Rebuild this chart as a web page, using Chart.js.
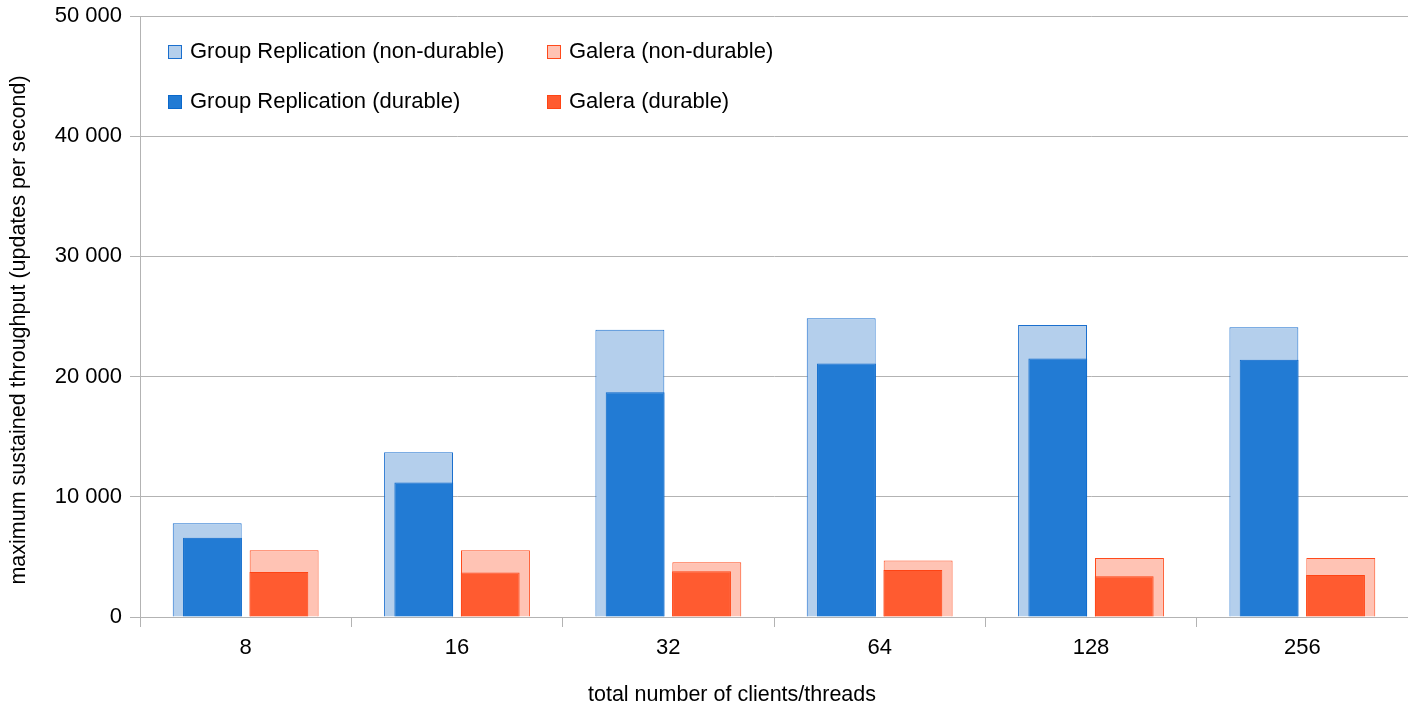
<!DOCTYPE html>
<html>
<head>
<meta charset="utf-8">
<script src="https://cdn.jsdelivr.net/npm/chart.js@4/dist/chart.umd.min.js"></script>
<style>
  html, body { margin: 0; padding: 0; background: #fff; }
  #wrap { position: relative; width: 1408px; height: 705px; }
  #legend { position: absolute; left: 168px; top: 38px; font-family: "Liberation Sans", Arial, sans-serif; font-size: 22px; color: #000; }
  .item { position: absolute; white-space: nowrap; line-height: 26px; }
  .box { display: inline-block; width: 14px; height: 14px; margin-right: 8px; vertical-align: -1px; box-sizing: border-box; border: 1px solid; }
</style>
</head>
<body>
<div id="wrap">
  <canvas id="chart" width="1408" height="705"></canvas>
  <div id="legend"></div>
</div>
<script>
const categories = ['8', '16', '32', '64', '128', '256'];
const grNonDurable = [7800, 13700, 23900, 24850, 24300, 24100];
const grDurable = [6600, 11200, 18700, 21100, 21500, 21400];
const galeraNonDurable = [5550, 5550, 4550, 4700, 4900, 4900];
const galeraDurable = [3750, 3700, 3800, 3900, 3400, 3500];
const yTicks = [0, 10000, 20000, 30000, 40000, 50000];

const fmt = (v) => String(v).replace(/\B(?=(\d{3})+(?!\d))/g, ' ');
const font = 'Liberation Sans, Arial, sans-serif';
const gridColor = '#b3b3b3';
const yTitle = 'maximum sustained throughput (updates per second)';
const xTitle = 'total number of clients/threads';

// durable bars first so they are drawn on top of the wide non-durable ones
const series = [
    { label: 'Group Replication (durable)', data: grDurable, stack: 'gr', wide: false, bg: '#227bd4', border: '#0a68cb' },
    { label: 'Galera (durable)', data: galeraDurable, stack: 'galera', wide: false, bg: '#ff5b30', border: '#ff4414' },
    { label: 'Group Replication (non-durable)', data: grNonDurable, stack: 'gr', wide: true, bg: '#b4cfec', border: '#1a6fce' },
    { label: 'Galera (non-durable)', data: galeraNonDurable, stack: 'galera', wide: true, bg: '#ffc3b4', border: '#ff4a1c' },
];

// axis titles drawn by hand so they sit where the original puts them
const titlesPlugin = {
    id: 'axisTitles',
    afterDraw(chart) {
        const ctx = chart.ctx;
        ctx.save();
        ctx.font = '21.5px ' + font;
        ctx.fillStyle = '#000';
        ctx.textAlign = 'center';
        ctx.textBaseline = 'middle';
        ctx.fillText(xTitle, 732, 695);
        ctx.translate(19, 330);
        ctx.rotate(-Math.PI / 2);
        ctx.fillText(yTitle, 0, 0);
        ctx.restore();
    }
};

new Chart(document.getElementById('chart'), {
    type: 'bar',
    data: {
        labels: categories,
        datasets: series.map(s => ({
            label: s.label,
            data: s.data,
            stack: s.stack,
            backgroundColor: s.bg,
            borderColor: s.border,
            borderWidth: 1,
            categoryPercentage: s.wide ? 0.728 : 0.628,
            barPercentage: s.wide ? 0.896 : 0.887,
        }))
    },
    options: {
        responsive: false,
        animation: false,
        layout: { padding: { top: 16, right: 0, left: 0, bottom: 0 } },
        plugins: { legend: { display: false }, tooltip: { enabled: false } },
        scales: {
            x: {
                type: 'category',
                offset: true,
                grid: { offset: true, drawOnChartArea: false, color: gridColor, tickLength: 10 },
                border: { color: gridColor },
                ticks: { color: '#000', font: { family: font, size: 22 }, padding: 8 },
                afterFit: (s) => { s.height = 88; s.paddingLeft = 0; s.paddingRight = 0; }
            },
            y: {
                min: 0,
                max: 50000,
                stacked: false,
                afterBuildTicks: (s) => { s.ticks = yTicks.map(v => ({ value: v })); },
                grid: { color: gridColor, tickLength: 10 },
                border: { color: gridColor },
                ticks: { color: '#000', font: { family: font, size: 22 }, padding: 8, callback: (v) => fmt(v) },
                afterFit: (s) => { s.width = 140; s.paddingTop = 0; s.paddingBottom = 0; }
            }
        }
    },
    plugins: [titlesPlugin]
});

// legend laid out as a 2x2 grid, like the original
const legendOrder = [
    [series[2], 0, 0], [series[3], 379, 0],
    [series[0], 0, 50], [series[1], 379, 50],
];
const legend = document.getElementById('legend');
legendOrder.forEach(([s, x, y]) => {
    const el = document.createElement('div');
    el.className = 'item';
    el.style.left = x + 'px';
    el.style.top = y + 'px';
    el.innerHTML = `<span class="box" style="background:${s.bg};border-color:${s.border}"></span>${s.label}`;
    legend.appendChild(el);
});
</script>
</body>
</html>
